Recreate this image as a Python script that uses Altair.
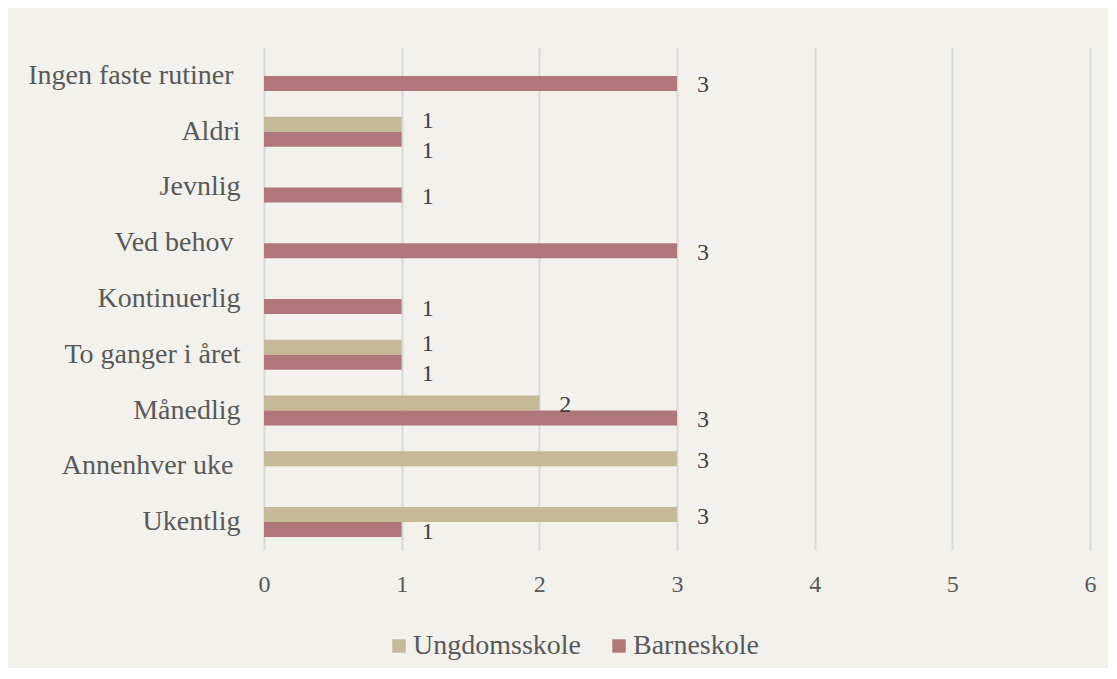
import altair as alt
import pandas as pd

categories = [
    "Ingen faste rutiner\u00a0\u200b",
    "Aldri",
    "Jevnlig",
    "Ved behov\u00a0\u200b",
    "Kontinuerlig",
    "To ganger i året",
    "Månedlig",
    "Annenhver uke\u00a0\u200b",
    "Ukentlig",
]
series = ["Ungdomsskole", "Barneskole"]
ungdomsskole = [None, 1, None, None, None, 1, 2, 3, 3]
barneskole = [3, 1, 1, 3, 1, 1, 3, None, 1]
x_ticks = [0, 1, 2, 3, 4, 5, 6]
colors = ["#C4BA98", "#B0777B"]

rows = []
for cat, u, b in zip(categories, ungdomsskole, barneskole):
    if u is not None:
        rows.append({"kategori": cat, "serie": "Ungdomsskole", "verdi": u})
    if b is not None:
        rows.append({"kategori": cat, "serie": "Barneskole", "verdi": b})
df = pd.DataFrame(rows)

FONT = "Liberation Serif"

y_enc = alt.Y(
    "kategori:N",
    sort=categories,
    title=None,
    scale=alt.Scale(paddingInner=0.462, paddingOuter=0.231),
    axis=alt.Axis(
        labelFont=FONT,
        labelFontSize=28,
        labelColor="#595959",
        labelPadding=24,
        labelLimit=0,
        ticks=False,
        domain=False,
        grid=False,
        labelAlign="right",
    ),
)
x_enc = alt.X(
    "verdi:Q",
    title=None,
    scale=alt.Scale(domain=[0, 6], nice=False),
    axis=alt.Axis(
        values=x_ticks,
        format="d",
        labelFont=FONT,
        labelFontSize=24,
        labelColor="#595959",
        labelAlign="center",
        labelPadding=22,
        ticks=False,
        tickSize=0,
        domain=False,
        grid=True,
        gridColor="#D9D9D9",
        gridWidth=2,
    ),
)
yoff = alt.YOffset("serie:N", sort=series, scale=alt.Scale(domain=series, paddingInner=0, paddingOuter=0))

base = alt.Chart(df)

bars = base.mark_bar(size=15).encode(
    y=y_enc,
    x=x_enc,
    yOffset=yoff,
    color=alt.Color(
        "serie:N",
        sort=series,
        scale=alt.Scale(domain=series, range=colors),
        legend=alt.Legend(
            title=None,
            orient="none",
            legendX=121,
            legendY=584,
            direction="horizontal",
            symbolType="square",
            symbolSize=180,
            symbolStrokeWidth=0,
            labelFont=FONT,
            labelFontSize=28,
            labelColor="#595959",
            labelLimit=0,
            labelOffset=0,
            columnPadding=24,
            padding=0,
        ),
    ),
)

text_enc = dict(
    y=alt.Y("kategori:N", sort=categories),
    x=alt.X("verdi:Q"),
    yOffset=yoff,
    text=alt.Text("verdi:Q"),
)
text_style = dict(align="left", baseline="middle", dx=20, font=FONT, fontSize=24, color="#404040")

counted = base.transform_joinaggregate(n="count()", groupby=["kategori", "verdi"])

labels_single = counted.transform_filter("datum.n == 1").mark_text(dy=2, **text_style).encode(**text_enc)
labels_top = counted.transform_filter(
    "datum.n > 1 && datum.serie == 'Ungdomsskole'"
).mark_text(dy=-3, **text_style).encode(**text_enc)
labels_bottom = counted.transform_filter(
    "datum.n > 1 && datum.serie == 'Barneskole'"
).mark_text(dy=12, **text_style).encode(**text_enc)

chart = (
    alt.layer(bars, labels_single, labels_top, labels_bottom)
    .properties(
        width=826,
        height=502,
        background="#F2F1EB",
        autosize=alt.AutoSizeParams(type="none"),
        padding={"left": 256, "top": 40, "right": 18, "bottom": 118},
    )
    .configure_view(stroke=None)
)

chart.save("out.html", embed_options={"renderer": "svg", "actions": False})
